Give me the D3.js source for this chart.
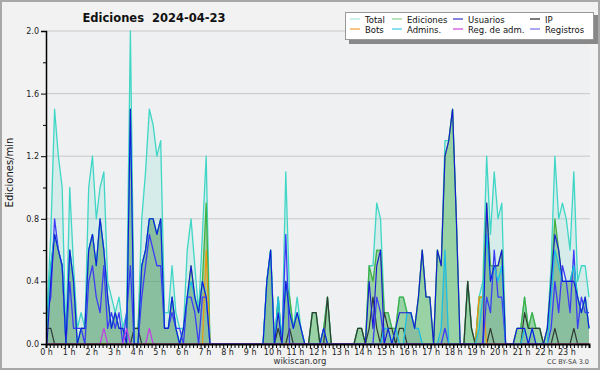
<!DOCTYPE html>
<html>
<head>
<meta charset="utf-8">
<script src="https://cdn.jsdelivr.net/npm/d3@7"></script>
<style>
  body { margin: 0; background: #f2f2f2; }
  svg { display: block; font-family: "DejaVu Sans", sans-serif; }
</style>
</head>
<body>
<div id="chart"></div>
<script>
// 10-minute bins, edits per minute, one row per hour
var total = [
  0.2, 0.7, 1.5, 1.2, 1.0, 0.0,   1.0, 0.5, 0.1, 0.2, 0.1, 1.0,
  1.2, 0.8, 1.0, 1.1, 0.4, 0.3,   0.2, 0.3, 0.1, 0.2, 2.0, 0.1,
  0.1, 0.8, 1.1, 1.5, 1.4, 1.2,   1.3, 0.2, 0.2, 0.5, 0.2, 0.1,
  0.1, 0.6, 0.8, 0.5, 0.2, 0.7,   1.2, 0, 0, 0, 0, 0,
  0, 0, 0, 0, 0, 0,               0, 0, 0, 0, 0.4, 0.6,
  0, 0.3, 0, 1.1, 0.3, 0.1,       0.3, 0.1, 0, 0, 0.2, 0.2,
  0, 0.1, 0.3, 0, 0, 0,           0, 0, 0, 0, 0.1, 0.1,
  0, 0.5, 0.5, 0.9, 0.8, 0.2,     0.2, 0.1, 0.1, 0.3, 0.3, 0.2,
  0.2, 0.1, 0.3, 0.6, 0.3, 0.3,   0, 0.6, 0.5, 1.3, 1.3, 1.5,
  0.8, 0, 0, 0.4, 0.1, 0,         0.3, 0.4, 1.2, 0.7, 1.1, 0.8,
  0.9, 0, 0, 0, 0.1, 0.1,         0.3, 0.1, 0.2, 0.1, 0.1, 0,
  0.1, 0.5, 1.2, 0.8, 0.9, 0.8,   0.6, 1.1, 0.4, 0.5, 0.5, 0.3
];
var ediciones = [
  0.1, 0.5, 0.7, 0.6, 0.5, 0.0,   0.6, 0.4, 0.0, 0.1, 0.1, 0.6,
  0.7, 0.5, 0.8, 0.6, 0.3, 0.1,   0.2, 0.1, 0.1, 0.0, 1.5, 0.1,
  0.1, 0.5, 0.6, 0.8, 0.8, 0.7,   0.8, 0.1, 0.1, 0.3, 0.1, 0.0,
  0.1, 0.3, 0.5, 0.3, 0.2, 0.4,   0.9, 0, 0, 0, 0, 0,
  0, 0, 0, 0, 0, 0,               0, 0, 0, 0, 0.4, 0.6,
  0, 0.3, 0, 0.4, 0.3, 0.1,       0.2, 0.1, 0, 0, 0.2, 0.2,
  0, 0.1, 0.3, 0, 0, 0,           0, 0, 0, 0, 0.1, 0.1,
  0, 0.5, 0.4, 0.6, 0.6, 0.2,     0.2, 0.1, 0.1, 0.3, 0.3, 0.2,
  0.2, 0.1, 0.3, 0.6, 0.3, 0.3,   0, 0.6, 0.5, 1.2, 1.3, 1.5,
  0.8, 0, 0, 0.4, 0.1, 0,         0.3, 0.3, 0.9, 0.5, 0.5, 0.5,
  0.6, 0, 0, 0, 0.1, 0.1,         0.3, 0.1, 0.2, 0.1, 0.1, 0,
  0.1, 0.4, 0.8, 0.6, 0.4, 0.4,   0.4, 0.5, 0.3, 0.2, 0.3, 0.1
];
var usuarios = [
  0.0, 0.4, 0.7, 0.6, 0.5, 0,     0.6, 0.4, 0, 0.1, 0.1, 0.6,
  0.7, 0.5, 0.8, 0.6, 0.3, 0.1,   0.2, 0.1, 0.1, 0, 1.5, 0,
  0, 0.5, 0.6, 0.8, 0.8, 0.7,     0.8, 0.1, 0.1, 0.3, 0.1, 0,
  0.1, 0.3, 0.5, 0.3, 0.2, 0.4,   0.3, 0, 0, 0, 0, 0,
  0, 0, 0, 0, 0, 0,               0, 0, 0, 0, 0.4, 0.6,
  0, 0.2, 0, 0.4, 0.2, 0.1,       0.2, 0.1, 0, 0, 0, 0,
  0, 0.1, 0, 0, 0, 0,             0, 0, 0, 0, 0, 0,
  0, 0.4, 0.1, 0.5, 0.6, 0,       0.1, 0, 0.1, 0.2, 0.2, 0.2,
  0.2, 0.1, 0.3, 0.6, 0.3, 0.3,   0, 0.6, 0.5, 1.2, 1.3, 1.5,
  0.8, 0, 0, 0, 0, 0,             0, 0, 0.9, 0.4, 0.5, 0.5,
  0.6, 0, 0, 0, 0.1, 0.1,         0.1, 0, 0.1, 0, 0, 0,
  0.1, 0.4, 0.7, 0.6, 0.4, 0.4,   0.4, 0.4, 0.3, 0.2, 0.3, 0.1
];
var ip = [
  0.1, 0.1, 0, 0, 0, 0,           0, 0, 0, 0, 0, 0,
  0, 0, 0, 0, 0, 0,               0, 0, 0, 0, 0, 0.1,
  0.1, 0, 0, 0, 0, 0,             0, 0, 0, 0, 0, 0,
  0, 0, 0, 0, 0, 0,               0, 0, 0, 0, 0, 0,
  0, 0, 0, 0, 0, 0,               0, 0, 0, 0, 0, 0,
  0, 0.1, 0, 0, 0.1, 0,           0, 0, 0, 0, 0.2, 0.2,
  0, 0, 0.3, 0, 0, 0,             0, 0, 0, 0, 0.1, 0.1,
  0, 0.1, 0.3, 0.1, 0, 0.2,       0.1, 0.1, 0, 0.1, 0.1, 0,
  0, 0, 0, 0, 0, 0,               0, 0, 0, 0, 0, 0,
  0, 0, 0, 0.4, 0.1, 0,           0, 0, 0, 0.1, 0, 0,
  0, 0, 0, 0, 0, 0,               0.2, 0.1, 0.1, 0.1, 0.1, 0,
  0, 0, 0.1, 0, 0, 0,             0, 0.1, 0, 0, 0, 0
];
var bots = [
  0, 0, 0, 0, 0, 0,   0, 0, 0, 0, 0, 0,
  0, 0, 0, 0, 0, 0,   0, 0, 0, 0, 0, 0,
  0, 0, 0, 0, 0, 0,   0, 0, 0, 0, 0, 0,
  0, 0, 0, 0, 0, 0,   0.6, 0, 0, 0, 0, 0,
  0, 0, 0, 0, 0, 0,   0, 0, 0, 0, 0, 0,
  0, 0, 0, 0, 0, 0,   0, 0, 0, 0, 0, 0,
  0, 0, 0, 0, 0, 0,   0, 0, 0, 0, 0, 0,
  0, 0, 0, 0, 0, 0,   0, 0, 0, 0, 0, 0,
  0, 0, 0, 0, 0, 0,   0, 0, 0, 0, 0, 0,
  0, 0, 0, 0, 0, 0,   0.3, 0.3, 0, 0, 0, 0,
  0, 0, 0, 0, 0, 0,   0, 0, 0, 0, 0, 0,
  0, 0, 0, 0, 0, 0,   0, 0, 0, 0, 0, 0
];
var admins = [
  0.1, 0.5, 0.7, 0.6, 0.5, 0,     0.6, 0.4, 0, 0.1, 0.1, 0.6,
  0.7, 0.5, 0.8, 0.6, 0.3, 0.1,   0.2, 0.1, 0.1, 0, 1.5, 0,
  0, 0.5, 0.6, 0.8, 0.8, 0.7,     0.8, 0.1, 0.1, 0.3, 0.1, 0,
  0.1, 0.3, 0.4, 0.3, 0.2, 0.4,   0.3, 0, 0, 0, 0, 0,
  0, 0, 0, 0, 0, 0,               0, 0, 0, 0, 0.4, 0.6,
  0, 0.3, 0, 0.4, 0.2, 0.1,       0.2, 0.1, 0, 0, 0, 0,
  0, 0.1, 0, 0, 0, 0,             0, 0, 0, 0, 0, 0,
  0, 0, 0, 0, 0, 0.1,             0.1, 0, 0.1, 0, 0, 0.2,
  0.2, 0.1, 0.1, 0, 0, 0,         0, 0, 0.1, 0.6, 0, 0,
  0, 0, 0, 0, 0, 0,               0.1, 0.3, 0.7, 0.4, 0.5, 0.4,
  0.5, 0, 0, 0, 0, 0,             0.1, 0, 0.1, 0, 0, 0,
  0, 0.3, 0.6, 0.5, 0.4, 0.4,     0.4, 0.5, 0.3, 0.2, 0.3, 0.1
];
var regAdm = [
  0, 0, 0, 0, 0, 0,   0, 0, 0, 0, 0, 0,
  0, 0, 0, 0.1, 0, 0, 0, 0, 0, 0.1, 0, 0,
  0, 0, 0, 0.1, 0, 0, 0, 0, 0, 0, 0, 0,
  0, 0, 0, 0, 0, 0,   0, 0, 0, 0, 0, 0,
  0, 0, 0, 0, 0, 0,   0, 0, 0, 0, 0, 0,
  0, 0, 0, 0, 0, 0,   0, 0, 0, 0, 0, 0,
  0, 0, 0, 0, 0, 0,   0, 0, 0, 0, 0, 0,
  0, 0, 0, 0, 0, 0,   0, 0, 0, 0, 0, 0,
  0, 0, 0, 0, 0, 0,   0, 0, 0, 0, 0, 0,
  0, 0, 0, 0, 0, 0,   0, 0, 0, 0, 0, 0,
  0, 0, 0, 0, 0, 0,   0, 0, 0, 0, 0, 0,
  0, 0, 0, 0, 0, 0,   0, 0, 0, 0, 0, 0
];
var registros = [
  0.2, 0.3, 0.8, 0.6, 0.5, 0,     0.4, 0.1, 0.1, 0.1, 0, 0.4,
  0.5, 0.3, 0.2, 0.5, 0.1, 0.2,   0.1, 0.2, 0, 0.2, 0.5, 0,
  0, 0.3, 0.5, 0.7, 0.6, 0.5,     0.5, 0.1, 0.1, 0.2, 0.1, 0.1,
  0, 0.3, 0.3, 0.2, 0, 0.3,       0.3, 0, 0, 0, 0, 0,
  0, 0, 0, 0, 0, 0,               0, 0, 0, 0, 0, 0,
  0, 0, 0, 0.7, 0, 0,             0, 0, 0, 0, 0, 0,
  0, 0, 0, 0, 0, 0,               0, 0, 0, 0, 0, 0,
  0, 0, 0, 0.3, 0.2, 0,           0, 0, 0, 0, 0, 0,
  0, 0, 0, 0, 0, 0,               0, 0, 0, 0.1, 0, 0,
  0, 0, 0, 0, 0, 0,               0, 0, 0.3, 0.2, 0.6, 0.3,
  0.3, 0, 0, 0, 0, 0,             0, 0, 0, 0, 0, 0,
  0, 0.1, 0.4, 0.2, 0.5, 0.4,     0.2, 0.6, 0.1, 0.3, 0.2, 0.2
];
var hours = d3.range(0, 24);
var yTicks = [0, 0.4, 0.8, 1.2, 1.6, 2.0];

var W = 600, H = 370;
var plotL = 46, plotR = 589, plotT = 31, plotB = 344;

var svg = d3.select("#chart").append("svg")
    .attr("width", W)
    .attr("height", H);

svg.append("rect").attr("x", 1).attr("y", 1).attr("width", W - 2).attr("height", H - 2)
    .attr("fill", "#f2f2f2").attr("stroke", "#a8a8a8").attr("stroke-width", 2);

svg.append("rect").attr("x", plotL).attr("y", plotT).attr("width", plotR - plotL).attr("height", plotB - plotT)
    .attr("fill", "#eef0f2");

var xScale = d3.scaleLinear().domain([0, 143]).range([plotL + 1, plotR]);
var hourScale = d3.scaleLinear().domain([0, 24]).range([plotL, plotR]);
var yScale = d3.scaleLinear().domain([0, 2.0]).range([plotB, plotT]);

// grid
svg.append("g").selectAll("line")
    .data(yTicks.slice(1))
    .enter().append("line")
    .attr("x1", plotL).attr("x2", plotR + 1)
    .attr("y1", d => yScale(d)).attr("y2", d => yScale(d))
    .attr("stroke", "#c8c8c8").attr("stroke-width", 1);

var idx = d3.range(total.length);

function area(arr) {
    return d3.area().x(i => xScale(i)).y0(yScale(0)).y1(i => yScale(arr[i]))(idx);
}
function line(arr) {
    return d3.line().x(i => xScale(i)).y(i => yScale(arr[i]))(idx);
}

var plot = svg.append("g");
plot.append("path").attr("d", area(total)).attr("fill", "rgba(90,215,195,0.16)");
plot.append("path").attr("d", area(ediciones)).attr("fill", "rgba(80,180,80,0.45)");
plot.append("path").attr("d", area(admins)).attr("fill", "rgba(30,70,130,0.13)");

var series = [
    { d: total, c: "#3fd6c6", w: 1.3 },
    { d: ediciones, c: "#44b044", w: 1.3 },
    { d: ip, c: "#303a36", w: 1.2 },
    { d: bots, c: "#f0960f", w: 1.2 },
    { d: registros, c: "#3c3cf5", w: 1.3 },
    { d: admins, c: "#1cbfe3", w: 1.3 },
    { d: usuarios, c: "#1818d8", w: 1.1 },
    { d: regAdm, c: "#c43ce6", w: 1.2 }
];
series.forEach(function (s) {
    plot.append("path").attr("d", line(s.d))
        .attr("fill", "none").attr("stroke", s.c).attr("stroke-width", s.w)
        .attr("stroke-linejoin", "round");
});

// axes
var yAxis = d3.axisLeft(yScale).tickValues(yTicks).tickFormat(d3.format(".1f")).tickSize(5).tickPadding(2);
var gy = svg.append("g").attr("transform", "translate(" + plotL + ",0)").call(yAxis);
var yMinor = d3.axisLeft(yScale).tickValues(d3.range(0.2, 2.0, 0.4)).tickFormat("").tickSize(3);
svg.append("g").attr("transform", "translate(" + plotL + ",0)").call(yMinor);

var xMinor = d3.axisBottom(hourScale).tickValues(d3.range(0, 24.01, 1 / 6)).tickFormat("").tickSize(4);
svg.append("g").attr("transform", "translate(0," + plotB + ")").call(xMinor);
var xAxis = d3.axisBottom(hourScale).tickValues(hours).tickFormat(d => d + " h").tickSize(4).tickPadding(1);
var gx = svg.append("g").attr("transform", "translate(0," + plotB + ")").call(xAxis);

svg.selectAll(".domain").attr("stroke", "#000");
gx.select(".domain").attr("stroke-width", 2);
gy.select(".domain").attr("stroke-width", 1.5);
svg.selectAll(".tick text").attr("font-size", 8).attr("fill", "#222")
    .attr("font-family", "DejaVu Sans, sans-serif");

// title and texts
svg.append("text").attr("x", 154).attr("y", 22).attr("text-anchor", "middle")
    .attr("font-size", 11.5).attr("font-weight", "bold").attr("fill", "#111")
    .attr("xml:space", "preserve").text("Ediciones  2024-04-23");

svg.append("text").attr("transform", "translate(13," + ((plotT + plotB) / 2 - 15) + ") rotate(-90)")
    .attr("text-anchor", "middle").attr("font-size", 10).attr("fill", "#111")
    .text("Ediciones/min");

svg.append("text").attr("x", 300).attr("y", 364).attr("text-anchor", "middle")
    .attr("font-size", 8.5).attr("fill", "#333").text("wikiscan.org");

svg.append("text").attr("x", 589).attr("y", 364).attr("text-anchor", "end")
    .attr("font-size", 6.5).attr("fill", "#444").text("CC BY-SA 3.0");

// legend
var legendItems = [
    { n: "Total", c: "#a8e8e0", x: 350, r: 0 },
    { n: "Ediciones", c: "#8fd08f", x: 392, r: 0 },
    { n: "Usuarios", c: "#3333cc", x: 453, r: 0 },
    { n: "IP", c: "#222222", x: 530, r: 0 },
    { n: "Bots", c: "#f5a030", x: 350, r: 1 },
    { n: "Admins.", c: "#3ccbe0", x: 392, r: 1 },
    { n: "Reg. de adm.", c: "#d040e0", x: 453, r: 1 },
    { n: "Registros", c: "#7070f0", x: 530, r: 1 }
];
svg.append("rect").attr("x", 349).attr("y", 15).attr("width", 249).attr("height", 29).attr("fill", "#888");
svg.append("rect").attr("x", 345.5).attr("y", 12.5).attr("width", 248).attr("height", 27)
    .attr("fill", "#fff").attr("stroke", "#999");
var lg = svg.append("g").selectAll("g").data(legendItems).enter().append("g")
    .attr("transform", d => "translate(" + d.x + "," + (19 + d.r * 10) + ")");
lg.append("line").attr("x1", 0).attr("x2", 10).attr("y1", 0).attr("y2", 0)
    .attr("stroke", d => d.c).attr("stroke-width", 1.2);
lg.append("text").attr("x", 15).attr("y", 3.5).attr("font-size", 8.5).attr("fill", "#111")
    .text(d => d.n);
</script>
</body>
</html>
